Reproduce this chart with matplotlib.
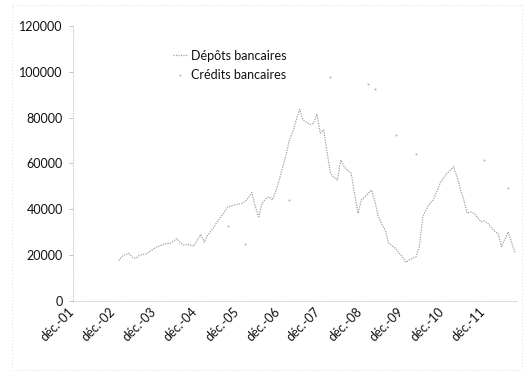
import datetime as dt
import matplotlib
matplotlib.use("Agg")
import matplotlib.pyplot as plt
from matplotlib.patches import Rectangle
from matplotlib.lines import Line2D
from matplotlib.transforms import ScaledTranslation

plt.rcParams["font.family"] = ["Lato", "DejaVu Sans"]

# Monthly deposits, Jan 2003 .. Sep 2012
depots = [
    17600, 19500, 20200, 20800, 19200, 18600, 19800, 20300, 20500, 21400, 22500, 23400,  # 2003
    24000, 24600, 25200, 25000, 26000, 27300, 25500, 24400, 24800, 24300, 24100, 26600,  # 2004
    29100, 25600, 28500, 30500, 32400, 35000, 36800, 39000, 41200, 41500, 42000, 42300,  # 2005
    42600, 43500, 45000, 47300, 41200, 36800, 42600, 44500, 45500, 44100, 48000, 52800,  # 2006
    58600, 64000, 70300, 74000, 79000, 83600, 79000, 78000, 77000, 77500, 81500, 73200,  # 2007
    74600, 64400, 55700, 54000, 52800, 61500, 58600, 57000, 55700, 47000, 38300, 44100,  # 2008
    45500, 47000, 48400, 43300, 36800, 33500, 31000, 25200, 24000, 23000, 21000, 19300,  # 2009
    16900, 18000, 18500, 19300, 23700, 36800, 40000, 42500, 44100, 47500, 51300, 53500,  # 2010
    55700, 57000, 58600, 54300, 49000, 44100, 38300, 38800, 38300, 36500, 34600, 35000,  # 2011
    33900, 32000, 30500, 29500, 23700, 27000, 30200, 25200, 20800,                      # 2012
]
depot_dates = [dt.date(2003 + i // 12, i % 12 + 1, 15) for i in range(len(depots))]

# Bank credits (sparse readings)
credit_dates = [dt.date(2005, 9, 15), dt.date(2006, 2, 15), dt.date(2007, 3, 15),
                dt.date(2008, 3, 15), dt.date(2009, 2, 15), dt.date(2009, 4, 15),
                dt.date(2009, 10, 15), dt.date(2010, 4, 15), dt.date(2011, 12, 15),
                dt.date(2012, 7, 15)]
credits = [32900, 24700, 44000, 97700, 94500, 92400, 72400, 64000, 61500, 49500]

tick_years = list(range(2001, 2012))
tick_labels = [f"déc.-{y % 100:02d}" for y in tick_years]
y_ticks = [0, 20000, 40000, 60000, 80000, 100000, 120000]

DEP_COLOR = "#a0a0a0"
CRED_COLOR = "#a8a8a8"

fig = plt.figure(figsize=(5.26, 3.75), dpi=100)
ax = fig.add_axes([0.138, 0.1973, 0.845, 0.7334])

ax.plot(depot_dates, depots, color=DEP_COLOR, lw=0.9, ls=(0, (1, 1)),
        label="Dépôts bancaires")
ax.plot(credit_dates, credits, color=CRED_COLOR, lw=0, marker="s", ms=1.2,
        mec="none", label="Crédits bancaires")

ax.set_xlim(dt.date(2001, 12, 1), dt.date(2012, 10, 1))
ax.set_ylim(0, 120000)
ax.set_xticks([dt.date(y, 12, 1) for y in tick_years])
ax.set_xticklabels(tick_labels, rotation=45, ha="right", va="center",
                   rotation_mode="anchor", fontsize=9, color="#111111")
shift = ScaledTranslation(5 / 72, 2 / 72, fig.dpi_scale_trans)
for lbl in ax.get_xticklabels():
    lbl.set_transform(lbl.get_transform() + shift)
ax.set_yticks(y_ticks)
ax.set_yticklabels([str(v) for v in y_ticks], fontsize=9, color="#111111")
ax.tick_params(axis="x", length=0, pad=6)
ax.tick_params(axis="y", length=3, width=0.6, color="#b8b8b8", pad=4)

for side in ("top", "right"):
    ax.spines[side].set_visible(False)
for side in ("left", "bottom"):
    ax.spines[side].set_color("#c4c4c4")
    ax.spines[side].set_linewidth(0.6)
    ax.spines[side].set_linestyle((0, (1, 2)))

handles = [
    Line2D([], [], color=DEP_COLOR, lw=0.9, ls=(0, (1, 1))),
    Line2D([], [], color=CRED_COLOR, lw=0, marker="s", ms=1.2, mec="none"),
]
ax.legend(handles, ["Dépôts bancaires", "Crédits bancaires"], loc="upper left",
          bbox_to_anchor=(0.2, 0.955), frameon=False, fontsize=9,
          handlelength=1.2, handletextpad=0.3, labelspacing=0.6,
          labelcolor="#111111")

# outer chart-area border
fig.patches.append(Rectangle((0.022, 0.013), 0.97, 0.975, transform=fig.transFigure,
                             fill=False, ec="#cccccc", lw=0.6, ls=(0, (1, 3))))

fig.savefig("out.png", dpi=100)
